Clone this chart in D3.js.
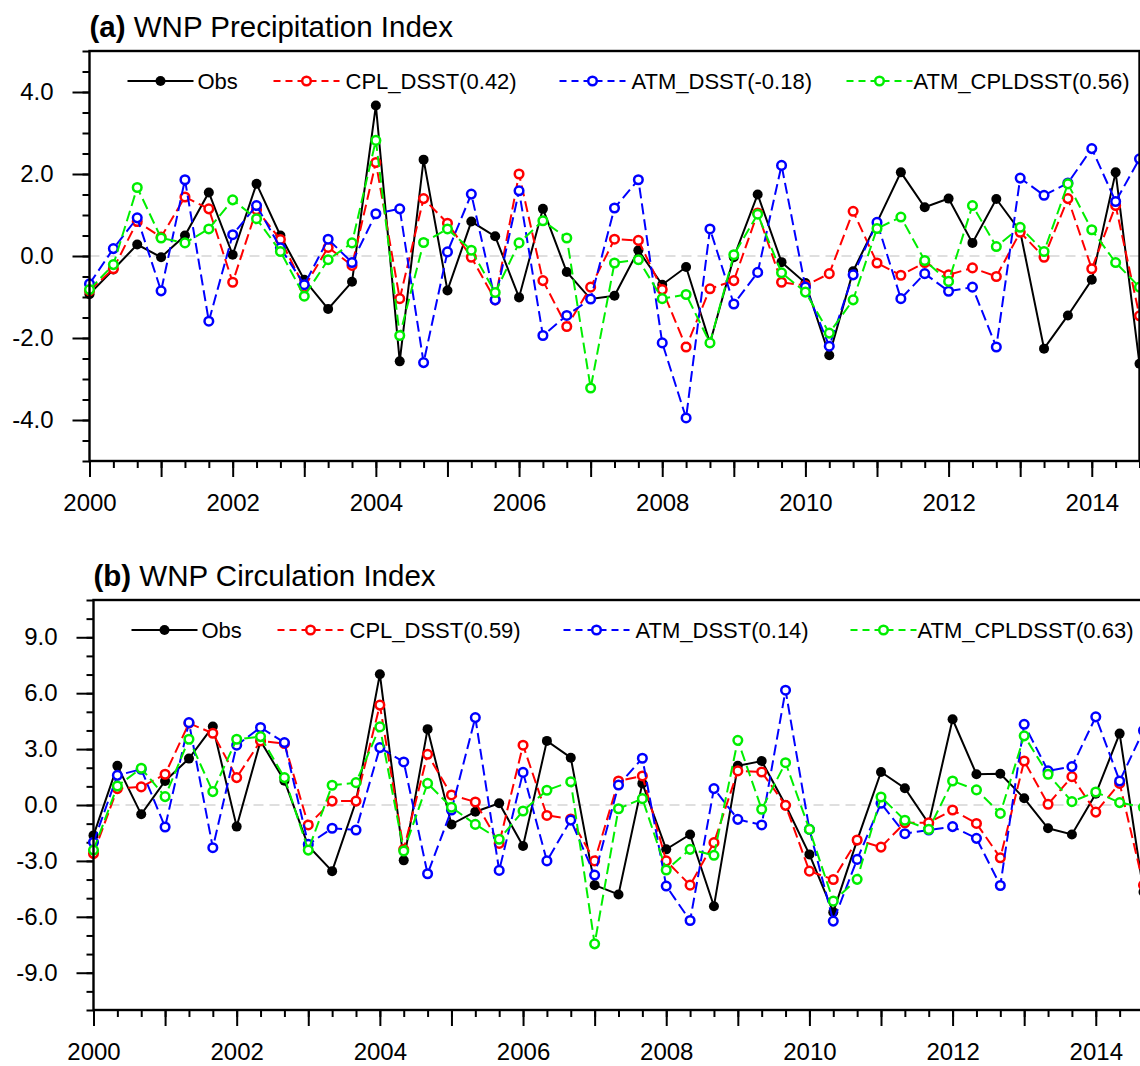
<!DOCTYPE html>
<html>
<head>
<meta charset="utf-8">
<script src="https://cdn.jsdelivr.net/npm/d3@7"></script>
<style>
  body { margin: 0; background: #fff; }
  svg { display: block; font-family: "Liberation Sans", Arial, Helvetica, sans-serif; }
  .title { font-size: 29.5px; fill: #000; }
  .title .tag { font-weight: bold; }
  .axis text { font-size: 24px; fill: #000; font-family: "Liberation Sans", Arial, Helvetica, sans-serif; }
  .axis line { stroke: #000; stroke-width: 2px; }
  .axis path { display: none; }
  .frame { fill: none; stroke: #000; stroke-width: 2.4px; }
  .zero { stroke: #c0c0c0; stroke-width: 1.2px; stroke-dasharray: 10,6; }
  .legend text { font-size: 22px; fill: #000; }
</style>
</head>
<body>
<svg id="chart" width="1140" height="1066"></svg>
<script>
// three seasons per year, 2000 - 2014
var years = [2000, 2001, 2002, 2003, 2004, 2005, 2006, 2007, 2008, 2009, 2010, 2011, 2012, 2013, 2014];
var seasonsPerYear = 3;
var yearLabels = [2000, 2002, 2004, 2006, 2008, 2010, 2012, 2014];

var seriesNames = ["Obs", "CPL_DSST", "ATM_DSST", "ATM_CPLDSST"];
var seriesColors = ["#000000", "#ff0000", "#0000ff", "#00ee00"];

// (a) precipitation index
var precipCorr = [null, "0.42", "-0.18", "0.56"];
var precipObs = [-0.93, -0.33, 0.28, -0.03, 0.5, 1.55, 0.03, 1.76, 0.5, -0.58, -1.29, -0.63, 3.67, -2.57, 2.35,
  -0.84, 0.84, 0.48, -1.01, 1.15, -0.39, -1.05, -0.97, 0.14, -0.7, -0.27, -2.12, -0.03, 1.5, -0.15,
  -0.66, -2.42, -0.37, 0.82, 2.04, 1.19, 1.4, 0.32, 1.39, 0.6, -2.26, -1.45, -0.58, 2.04, -2.63];
var precipCpl = [-0.85, -0.31, 0.84, 0.46, 1.44, 1.15, -0.64, 1.13, 0.4, -0.76, 0.21, -0.23, 2.28, -1.04, 1.4,
  0.8, -0.03, -1.07, 2.0, -0.6, -1.72, -0.76, 0.41, 0.38, -0.82, -2.22, -0.8, -0.6, 1.05, -0.64,
  -0.72, -0.43, 1.09, -0.17, -0.47, -0.16, -0.46, -0.29, -0.5, 0.58, -0.03, 1.4, -0.31, 1.23, -1.46];
var precipAtm = [-0.68, 0.18, 0.93, -0.85, 1.86, -1.59, 0.52, 1.23, 0.2, -0.7, 0.41, -0.16, 1.03, 1.15, -2.6,
  0.1, 1.51, -1.07, 1.59, -1.94, -1.45, -1.05, 1.17, 1.86, -2.12, -3.95, 0.66, -1.17, -0.4, 2.21,
  -0.76, -2.2, -0.46, 0.82, -1.04, -0.43, -0.86, -0.76, -2.22, 1.9, 1.48, 1.78, 2.62, 1.33, 2.37];
var precipAtmCpl = [-0.82, -0.21, 1.67, 0.44, 0.32, 0.66, 1.37, 0.91, 0.11, -0.98, -0.09, 0.32, 2.82, -1.94, 0.33,
  0.66, 0.14, -0.89, 0.32, 0.86, 0.44, -3.22, -0.17, -0.09, -1.04, -0.94, -2.12, 0.03, 1.02, -0.41,
  -0.88, -1.88, -1.07, 0.67, 0.95, -0.11, -0.62, 1.23, 0.23, 0.7, 0.11, 1.76, 0.64, -0.16, -0.76];
var precipTicks = [-4, -2, 0, 2, 4];

// (b) circulation index
var circCorr = [null, "0.59", "0.14", "0.63"];
var circObs = [-1.63, 2.1, -0.5, 1.29, 2.49, 4.21, -1.16, 3.43, 1.3, -2.2, -3.55, 0.2, 7.02, -2.97, 4.07,
  -1.04, -0.36, 0.09, -2.2, 3.44, 2.54, -4.3, -4.8, 1.16, -2.38, -1.58, -5.43, 2.1, 2.36, 0.0,
  -2.65, -5.75, -1.9, 1.77, 0.9, -1.0, 4.6, 1.65, 1.68, 0.36, -1.25, -1.58, 0.6, 3.83, -4.67];
var circCpl = [-2.6, 0.88, 0.97, 1.65, 4.39, 3.85, 1.47, 3.44, 3.3, -1.07, 0.21, 0.21, 5.36, -2.38, 2.72,
  0.54, 0.16, -2.06, 3.21, -0.56, -0.75, -3.0, 1.29, 1.56, -3.0, -4.3, -2.02, 1.83, 1.77, -0.02,
  -3.55, -4.0, -1.88, -2.26, -0.95, -0.95, -0.27, -0.99, -2.83, 2.36, 0.04, 1.52, -0.38, 1.16, -4.3];
var circAtm = [-2.0, 1.59, 1.92, -1.18, 4.42, -2.29, 3.21, 4.16, 3.35, -2.11, -1.25, -1.34, 3.08, 2.31, -3.69,
  -0.27, 4.69, -3.51, 1.75, -3.0, -0.81, -3.76, 1.07, 2.51, -4.35, -6.2, 0.88, -0.77, -1.07, 6.16,
  -1.31, -6.23, -2.92, 0.09, -1.54, -1.34, -1.16, -1.79, -4.32, 4.33, 1.83, 2.06, 4.73, 1.29, 4.0];
var circAtmCpl = [-2.42, 1.02, 1.97, 0.45, 3.53, 0.72, 3.53, 3.67, 1.47, -2.42, 1.06, 1.2, 4.19, -2.47, 1.16,
  -0.12, -1.04, -1.84, -0.32, 0.79, 1.25, -7.45, -0.2, 0.34, -3.49, -2.38, -2.7, 3.47, -0.23, 2.27,
  -1.31, -5.16, -3.99, 0.43, -0.82, -1.31, 1.29, 0.81, -0.45, 3.71, 1.65, 0.18, 0.7, 0.13, -0.13];
var circTicks = [-9, -6, -3, 0, 3, 6, 9];

var panels = [
  { tag: "(a)", title: "WNP Precipitation Index", left: 89.5, top: 51, yMax: 5, minorStep: 0.5,
    ticks: precipTicks, corr: precipCorr, series: [precipObs, precipCpl, precipAtm, precipAtmCpl] },
  { tag: "(b)", title: "WNP Circulation Index", left: 93.5, top: 600, yMax: 11, minorStep: 1,
    ticks: circTicks, corr: circCorr, series: [circObs, circCpl, circAtm, circAtmCpl] }
];

var width = 1050, height = 410;
var svg = d3.select("#chart");

function timeOf(i) {
  return years[Math.floor(i / seasonsPerYear)] + (i % seasonsPerYear) / seasonsPerYear;
}

panels.forEach(function(p) {
  var g = svg.append("g").attr("transform", "translate(" + p.left + "," + p.top + ")");

  var x = d3.scaleLinear()
      .domain([years[0], years[years.length - 1] + (seasonsPerYear - 1) / seasonsPerYear])
      .range([0, width]);
  var y = d3.scaleLinear().domain([-p.yMax, p.yMax]).range([height, 0]);

  var minorX = d3.range(0, years.length * seasonsPerYear - 1 + 0.5).map(timeOf);
  var minorY = d3.range(-p.yMax, p.yMax + p.minorStep / 2, p.minorStep);

  // minor ticks first, then major ones with labels
  g.append("g").attr("class", "axis").attr("transform", "translate(0," + height + ")")
      .call(d3.axisBottom(x).tickValues(minorX).tickSize(7).tickFormat(""));
  g.append("g").attr("class", "axis").attr("transform", "translate(0," + height + ")")
      .call(d3.axisBottom(x).tickValues(years).tickSize(16).tickPadding(17)
        .tickFormat(function(d) { return yearLabels.indexOf(d) >= 0 ? d : ""; }));
  g.append("g").attr("class", "axis")
      .call(d3.axisLeft(y).tickValues(minorY).tickSize(7).tickFormat(""));
  g.append("g").attr("class", "axis")
      .call(d3.axisLeft(y).tickValues(p.ticks).tickSize(17).tickPadding(19)
        .tickFormat(function(d) { return d.toFixed(1); }));

  g.append("line").attr("class", "zero")
      .attr("x1", 0).attr("x2", width)
      .attr("y1", y(0)).attr("y2", y(0));

  var line = d3.line()
      .x(function(d, i) { return x(timeOf(i)); })
      .y(function(d) { return y(d); });

  p.series.forEach(function(values, k) {
    var s = g.append("g");
    s.append("path")
        .attr("d", line(values))
        .attr("fill", "none")
        .attr("stroke", seriesColors[k])
        .attr("stroke-width", 2)
        .attr("stroke-dasharray", k === 0 ? null : "11,5");
    s.selectAll("circle").data(values).enter().append("circle")
        .attr("cx", function(d, i) { return x(timeOf(i)); })
        .attr("cy", function(d) { return y(d); })
        .attr("r", k === 0 ? 5 : 4.3)
        .attr("fill", k === 0 ? "#000" : "#fff")
        .attr("stroke", seriesColors[k])
        .attr("stroke-width", k === 0 ? 0 : 2.5);
  });

  g.append("rect").attr("class", "frame").attr("width", width).attr("height", height);

  // legend
  var lineStart = [38, 184, 470, 757];
  var textStart = [108, 256, 542, 824];
  var legend = g.append("g").attr("class", "legend").attr("transform", "translate(0,30)");
  seriesNames.forEach(function(name, k) {
    legend.append("line")
        .attr("x1", lineStart[k]).attr("x2", lineStart[k] + 66)
        .attr("stroke", seriesColors[k])
        .attr("stroke-width", 2)
        .attr("stroke-dasharray", k === 0 ? null : "7,5");
    legend.append("circle")
        .attr("cx", lineStart[k] + 33)
        .attr("r", k === 0 ? 5 : 4.3)
        .attr("fill", k === 0 ? "#000" : "#fff")
        .attr("stroke", seriesColors[k])
        .attr("stroke-width", k === 0 ? 0 : 2.5);
    legend.append("text")
        .attr("x", textStart[k])
        .attr("dy", "0.36em")
        .text(p.corr[k] === null ? name : name + "(" + p.corr[k] + ")");
  });

  var title = g.append("text").attr("class", "title").attr("y", -14);
  title.append("tspan").attr("class", "tag").text(p.tag);
  title.append("tspan").text(" " + p.title);
});
</script>
</body>
</html>
